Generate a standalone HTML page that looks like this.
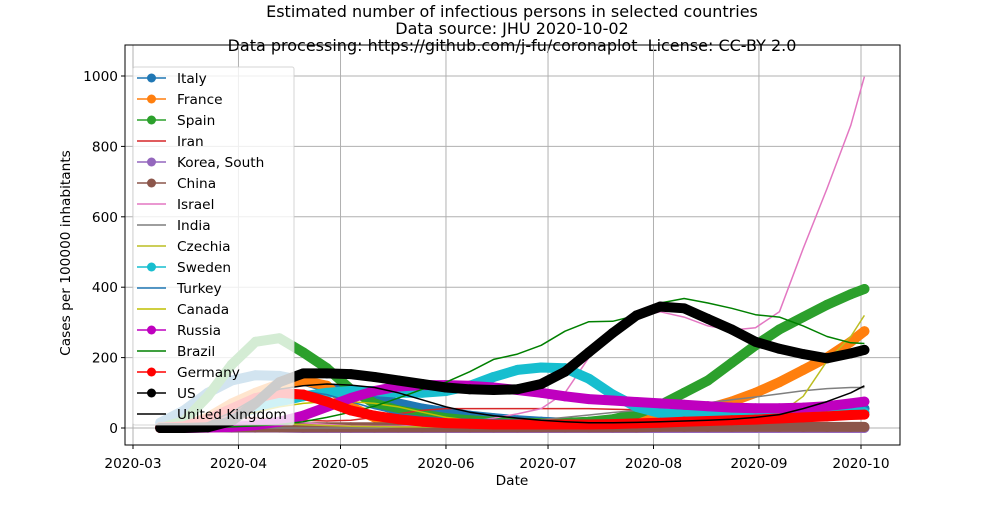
<!DOCTYPE html>
<html><head><meta charset="utf-8"><style>
body{margin:0;background:#fff;}
svg{font-family:"DejaVu Sans","Liberation Sans",sans-serif;}
</style></head><body>
<svg id="chart" width="1000" height="500" viewBox="0 0 1000 500">
<rect width="1000" height="500" fill="#fff"/>
<g font-size="16" text-anchor="middle" fill="#000" style="white-space:pre">
<text x="512" y="17">Estimated number of infectious persons in selected countries</text>
<text x="512" y="34">Data source: JHU 2020-10-02</text>
<text x="512" y="51" xml:space="preserve">Data processing: https://github.com/j-fu/coronaplot  License: CC-BY 2.0</text>
</g>
<g id="grid"></g>
<g id="series"></g>
<g id="axes"></g>
<g id="legend"></g>
</svg>
<script>
const days = [8,15,22,29,36,43,50,57,64,71,78,85,92,99,106,113,120,127,134,141,148,155,162,169,176,183,190,197,204,211,215];
const italy   = [15,50,100,135,150,148,135,115,100,85,70,55,45,35,28,22,18,15,14,14,15,17,20,25,30,35,40,45,48,52,55];
const france  = [0,5,30,70,100,125,135,120,60,30,20,15,12,10,10,10,10,12,15,18,22,28,38,55,75,100,130,165,200,245,275];
const spain   = [0,20,90,180,245,255,215,170,110,70,50,38,28,22,18,15,14,15,18,25,40,65,100,135,185,235,280,315,350,380,395];
const iran    = [2,10,25,30,28,25,22,20,22,30,40,50,55,55,55,55,55,55,55,53,52,52,52,50,50,50,50,50,50,50,50];
const korea   = [2,3,2,1,1,1,0,0,0,0,0,0,0,0,0,0,0,0,0,0,0,0,0,0,0,0,0,0,0,0,0];
const china   = [3,2,2,2,2,2,2,2,2,2,2,2,2,2,2,2,2,2,2,2,2,3,3,3,3,3,3,3,3,3,3];
const israel  = [0,3,10,20,25,22,15,10,6,5,5,8,12,18,28,40,55,100,200,270,315,330,315,290,278,285,330,510,680,860,998];
const india   = [0,0,0,0,0,0,0,0,0,0,3,5,8,11,15,19,24,30,37,44,50,57,64,72,80,88,97,106,112,115,115];
const czechia = [0,3,10,15,15,12,9,7,5,4,3,3,3,4,5,5,6,7,7,7,7,8,9,10,12,15,40,90,190,260,320];
const sweden  = [0,5,15,35,55,75,90,100,105,105,100,100,105,120,145,165,172,170,140,95,60,42,38,37,37,37,37,38,40,44,45];
const turkey  = [0,0,5,40,80,100,105,95,75,55,40,32,28,25,24,23,22,22,22,22,22,22,22,23,24,25,27,28,30,32,33];
const canada  = [0,2,10,25,45,60,70,75,75,70,60,45,30,22,18,14,12,11,10,10,10,10,11,12,13,15,18,22,26,30,32];
const russia  = [0,0,1,3,8,18,35,60,85,105,118,122,122,120,115,108,100,90,82,78,74,70,66,62,58,56,56,58,62,70,75];
const brazil  = [0,0,1,3,6,10,18,30,45,62,85,110,130,160,195,210,235,275,302,303,320,355,368,355,340,322,315,290,260,242,240];
const germany = [0,5,25,55,85,100,95,75,50,35,25,18,14,12,10,10,10,10,10,11,13,15,18,20,22,24,27,30,33,37,38];
const us      = [0,0,2,20,70,130,155,155,153,145,135,125,115,110,108,110,125,160,215,270,320,345,340,310,280,245,225,210,198,212,222];
const uk      = [0,2,15,45,85,110,120,125,122,115,100,80,60,45,35,28,22,18,15,15,16,18,20,22,25,30,38,55,75,100,120];
const names   = ["Italy","France","Spain","Iran","Korea, South","China","Israel","India","Czechia","Sweden","Turkey","Canada","Russia","Brazil","Germany","US","United Kingdom"];
const yTicks  = [0,200,400,600,800,1000];
const xTickDays = [0,31,61,92,122,153,184,214];
const xTickLabels = ["2020-03","2020-04","2020-05","2020-06","2020-07","2020-08","2020-09","2020-10"];

const NS="http://www.w3.org/2000/svg";
const L=125,R=900,T=45,B=445;
const FS=13.7;
const xs=d=>133+d*(861-133)/214;
const ys=v=>428-v*0.352;
function mk(tag,attrs,parent){const e=document.createElementNS(NS,tag);for(const k in attrs)e.setAttribute(k,attrs[k]);parent.appendChild(e);return e;}
const grid=document.getElementById('grid'),axes=document.getElementById('axes'),ser=document.getElementById('series'),leg=document.getElementById('legend');
yTicks.forEach(v=>{
  const g=mk('line',{x1:L,x2:R,y1:ys(v),y2:ys(v),stroke:'#b0b0b0','stroke-width':1},grid);
  
  
  mk('line',{x1:L-4,x2:L,y1:ys(v),y2:ys(v),stroke:'#000'},axes);
  const t=mk('text',{x:L-7,y:ys(v)+5,'text-anchor':'end','font-size':FS},axes);t.textContent=v;
  
  
});
xTickDays.forEach((d,i)=>{
  const g=mk('line',{x1:xs(d),x2:xs(d),y1:T,y2:B,stroke:'#b0b0b0','stroke-width':1},grid);
  
  
  mk('line',{x1:xs(d),x2:xs(d),y1:B,y2:B+4,stroke:'#000'},axes);
  const t=mk('text',{x:xs(d),y:B+23,'text-anchor':'middle','font-size':FS},axes);t.textContent=xTickLabels[i];
  
  
});
const frame=mk('rect',{x:L,y:T,width:R-L,height:B-T,fill:'none',stroke:'#000','stroke-width':1},axes);


const xl=mk('text',{x:512,y:485,'text-anchor':'middle','font-size':FS},axes);xl.textContent='Date';


const yl=mk('text',{x:0,y:0,'text-anchor':'middle','font-size':FS,transform:'translate(70,253) rotate(-90)'},axes);yl.textContent='Cases per 100000 inhabitants';



const data=[italy,france,spain,iran,korea,china,israel,india,czechia,sweden,turkey,canada,russia,brazil,germany,us,uk];
const colors=['#1f77b4','#ff7f0e','#2ca02c','#d62728','#9467bd','#8c564b','#e377c2','#7f7f7f','#bcbd22','#17becf','#1f77b4','#bfbf00','#bf00bf','#008000','#ff0000','#000000','#000000'];
const marker=[1,1,1,0,1,1,0,0,0,1,0,0,1,0,1,1,0];
data.forEach((vals,i)=>{
  const g=mk('g',{},ser);
  
  
  const pts=vals.map((v,j)=>xs(days[j]).toFixed(1)+','+ys(v).toFixed(1)).join(' ');
  if(marker[i]){
    mk('polyline',{points:pts,fill:'none',stroke:colors[i],'stroke-width':10,'stroke-linejoin':'round','stroke-linecap':'round'},g);
    vals.forEach((v,j)=>{const c=mk('circle',{cx:xs(days[j]),cy:ys(v),r:5,fill:colors[i]},g);
      
      });
  }
  mk('polyline',{points:pts,fill:'none',stroke:colors[i],'stroke-width':1.5,'stroke-linejoin':'round'},g);
});
const lb=mk('rect',{x:133,y:67,width:161,height:358,rx:2,fill:'#fff','fill-opacity':0.8,stroke:'#cccccc','stroke-opacity':0.8},leg);


names.forEach((n,i)=>{
  const y=78+i*21;
  const g=mk('g',{},leg);
  
  
  mk('line',{x1:137,x2:166,y1:y,y2:y,stroke:colors[i],'stroke-width':1.5},g);
  if(marker[i]) mk('circle',{cx:151.5,cy:y,r:4.5,fill:colors[i]},g);
  const t=mk('text',{x:177,y:y+5,'font-size':FS},g);t.textContent=n;
});
</script>
</body></html>
